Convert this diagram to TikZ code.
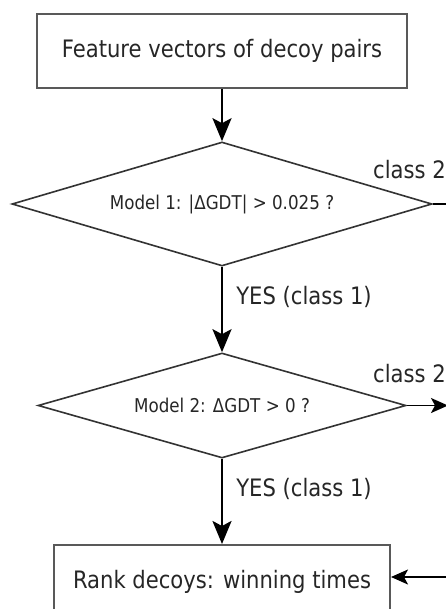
\documentclass[tikz,border=0pt]{standalone}
\usepackage{fontspec}
\setmainfont{DejaVu Sans}[FakeStretch=0.88]
\usetikzlibrary{arrows.meta,shapes.geometric,positioning}

\begin{document}
\begin{tikzpicture}[->,>={Stealth[length=23pt,width=19pt,inset=5pt]},x=1pt,y=1pt,
  node distance=150pt,text=black!85,
  box node/.style={rectangle,draw=black!65,line width=2pt,minimum height=74pt,font=\fontsize{24}{28}\selectfont},
  test node/.style={diamond,draw=black!80,line width=1.6pt,aspect=3.4,inner sep=0pt,font=\fontsize{19}{22}\selectfont},
  arrow label/.style={font=\fontsize{24}{28}\selectfont,inner sep=0pt}]

 \useasboundingbox (0,0) rectangle (446,-609);
 \clip (0,0) rectangle (446,-609);

 \node[box node,minimum width=370pt] (feat) at (222,-51) {Feature vectors of decoy pairs};
 \node[test node,minimum width=420pt,minimum height=124pt] (m1) [below of=feat,node distance=153pt] {Model 1: |ΔGDT| > 0.025 ?};
 \node[test node,minimum width=368pt,minimum height=105pt] (m2) [below of=m1,node distance=201.5pt] {Model 2: ΔGDT > 0 ?};
 \node[box node,minimum width=336pt] (rank) [below of=m2,node distance=176.5pt] {Rank decoys: winning times};

 % class 2 goes round on the right
 \coordinate (rt) at (448,-204);
 \coordinate (rm) at (448,-405.5);
 \coordinate (rb) at (448,-577);

 \path[line width=2.6pt]
    (feat)	edge (m1)
    (m1)	edge node[arrow label,right=13pt,pos=0.35] {YES (class 1)} (m2)
    (m2)	edge node[arrow label,right=13pt,pos=0.35] {YES (class 1)} (rank);

 \draw[-,line width=1.6pt] (m1.east) -- (rt) -- (rb);
 \draw[line width=1.6pt,-{Stealth[length=17pt,width=15pt,inset=4pt]}] (m2.east) -- (rm);
 \draw[line width=1.6pt,-{Stealth[length=17pt,width=15pt,inset=4pt]}] (rb) -- (rank.east |- rb);

 \node[arrow label,anchor=base east] (c1) at (446,-179) {class 2};
 \node[arrow label,anchor=base east] (c2) at (446,-382) {class 2};

\end{tikzpicture}
\end{document}
